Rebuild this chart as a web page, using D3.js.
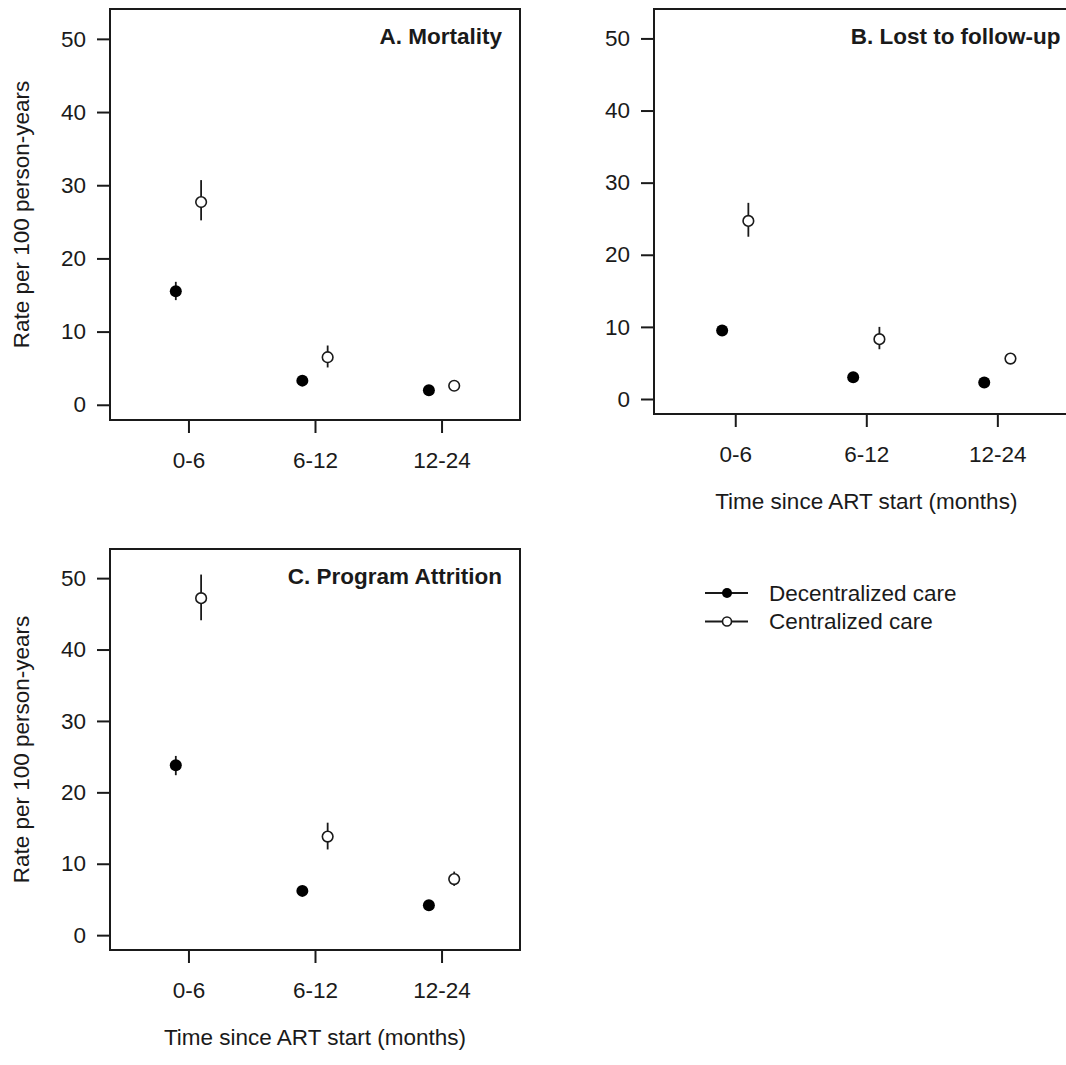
<!DOCTYPE html>
<html>
<head>
<meta charset="utf-8">
<script src="https://cdn.jsdelivr.net/npm/d3@7"></script>
<style>
  body { margin: 0; background: #fff; }
  svg { display: block; font-family: "Liberation Sans", Arial, Helvetica, sans-serif; }
  .tick text { font-size: 22.5px; fill: #1a1a1a; }
  .lbl { font-size: 22.5px; fill: #1a1a1a; }
  .ttl { font-size: 22.5px; font-weight: bold; fill: #1a1a1a; }
</style>
</head>
<body>
<svg id="chart" width="1066" height="1065"></svg>
<script>
var categories = ['0-6', '6-12', '12-24'];
var yTicks = [0, 10, 20, 30, 40, 50];
var seriesNames = ['Decentralized care', 'Centralized care'];

// A. Mortality
var mortDec = [15.5, 3.3, 2.0];
var mortDecLo = [14.3, 2.9, 1.7];
var mortDecHi = [16.8, 3.7, 2.4];
var mortCen = [27.7, 6.5, 2.6];
var mortCenLo = [25.2, 5.1, 2.2];
var mortCenHi = [30.7, 8.1, 3.0];

// B. Lost to follow-up
var ltfuDec = [9.5, 3.0, 2.3];
var ltfuDecLo = [8.9, 2.6, 2.0];
var ltfuDecHi = [10.1, 3.4, 2.7];
var ltfuCen = [24.7, 8.3, 5.6];
var ltfuCenLo = [22.5, 6.9, 5.0];
var ltfuCenHi = [27.2, 10.0, 6.3];

// C. Program Attrition
var attrDec = [23.8, 6.2, 4.2];
var attrDecLo = [22.4, 5.6, 3.8];
var attrDecHi = [25.1, 6.8, 4.7];
var attrCen = [47.2, 13.8, 7.85];
var attrCenLo = [44.1, 12.0, 6.9];
var attrCenHi = [50.5, 15.75, 8.9];

var ink = '#1a1a1a';
var svg = d3.select('svg#chart');

var panels = [
  { title: 'A. Mortality', box: [110, 9, 520, 420], ylab: true, xlab: false,
    dec: [mortDec, mortDecLo, mortDecHi], cen: [mortCen, mortCenLo, mortCenHi] },
  { title: 'B. Lost to follow-up', box: [654, 9, 1078.6, 414], ylab: false, xlab: true,
    dec: [ltfuDec, ltfuDecLo, ltfuDecHi], cen: [ltfuCen, ltfuCenLo, ltfuCenHi] },
  { title: 'C. Program Attrition', box: [110, 549, 520, 950], ylab: true, xlab: true,
    dec: [attrDec, attrDecLo, attrDecHi], cen: [attrCen, attrCenLo, attrCenHi] }
];

panels.forEach(drawPanel);

function drawPanel(p) {
  var l = p.box[0], t = p.box[1], r = p.box[2], b = p.box[3];
  // R-style limits: xlim c(0.5,3.5), ylim c(0,52), each padded 4%
  var x = d3.scaleLinear().domain([0.38, 3.62]).range([l, r]);
  var y = d3.scaleLinear().domain([-2.08, 54.08]).range([b, t]);

  var g = svg.append('g');

  var yAxis = g.append('g')
      .attr('transform', 'translate(' + l + ',0)')
      .call(d3.axisLeft(y).tickValues(yTicks).tickSize(13).tickPadding(11));
  yAxis.select('.domain').remove();

  var xAxis = g.append('g')
      .attr('transform', 'translate(0,' + b + ')')
      .call(d3.axisBottom(x).tickValues([1, 2, 3]).tickSize(13).tickPadding(19)
        .tickFormat(function (d) { return categories[d - 1]; }));
  xAxis.select('.domain').remove();

  g.selectAll('.tick line').attr('stroke', ink).attr('stroke-width', 2);

  g.append('rect')
      .attr('x', l).attr('y', t)
      .attr('width', r - l).attr('height', b - t)
      .attr('fill', 'none').attr('stroke', ink).attr('stroke-width', 2);

  g.append('text')
      .attr('class', 'ttl')
      .attr('x', r - 18).attr('y', t + 35)
      .attr('text-anchor', 'end')
      .text(p.title);

  if (p.ylab) {
    g.append('text')
        .attr('class', 'lbl')
        .attr('transform', 'translate(29,' + (t + b) / 2 + ') rotate(-90)')
        .attr('text-anchor', 'middle')
        .text('Rate per 100 person-years');
  }
  if (p.xlab) {
    g.append('text')
        .attr('class', 'lbl')
        .attr('x', (l + r) / 2).attr('y', b + 95)
        .attr('text-anchor', 'middle')
        .text('Time since ART start (months)');
  }

  var groups = [
    { vals: p.dec, off: -0.1, filled: true },
    { vals: p.cen, off: 0.1, filled: false }
  ];

  groups.forEach(function (s) {
    var rows = categories.map(function (c, i) {
      return { x: i + 1 + s.off, est: s.vals[0][i], lo: s.vals[1][i], hi: s.vals[2][i] };
    });

    g.selectAll(null)
        .data(rows)
        .enter().append('line')
        .attr('x1', function (d) { return x(d.x); })
        .attr('x2', function (d) { return x(d.x); })
        .attr('y1', function (d) { return y(d.lo); })
        .attr('y2', function (d) { return y(d.hi); })
        .attr('stroke', ink).attr('stroke-width', 1.8);

    g.selectAll(null)
        .data(rows)
        .enter().append('circle')
        .attr('cx', function (d) { return x(d.x); })
        .attr('cy', function (d) { return y(d.est); })
        .attr('r', s.filled ? 6 : 5.3)
        .attr('fill', s.filled ? '#000' : '#fff')
        .attr('stroke', s.filled ? 'none' : ink)
        .attr('stroke-width', 1.6);
  });
}

// legend
var legend = svg.append('g').attr('transform', 'translate(705,593)');
var rowsL = legend.selectAll('g')
    .data(seriesNames)
    .enter().append('g')
    .attr('transform', function (d, i) { return 'translate(0,' + i * 28.5 + ')'; });

rowsL.append('line')
    .attr('x1', 0).attr('x2', 43)
    .attr('stroke', ink).attr('stroke-width', 1.8);

rowsL.append('circle')
    .attr('cx', 22)
    .attr('r', function (d, i) { return i === 0 ? 5 : 4.5; })
    .attr('fill', function (d, i) { return i === 0 ? '#000' : '#fff'; })
    .attr('stroke', function (d, i) { return i === 0 ? 'none' : ink; })
    .attr('stroke-width', 1.6);

rowsL.append('text')
    .attr('class', 'lbl')
    .attr('x', 64).attr('dy', '0.35em')
    .text(function (d) { return d; });
</script>
</body>
</html>
